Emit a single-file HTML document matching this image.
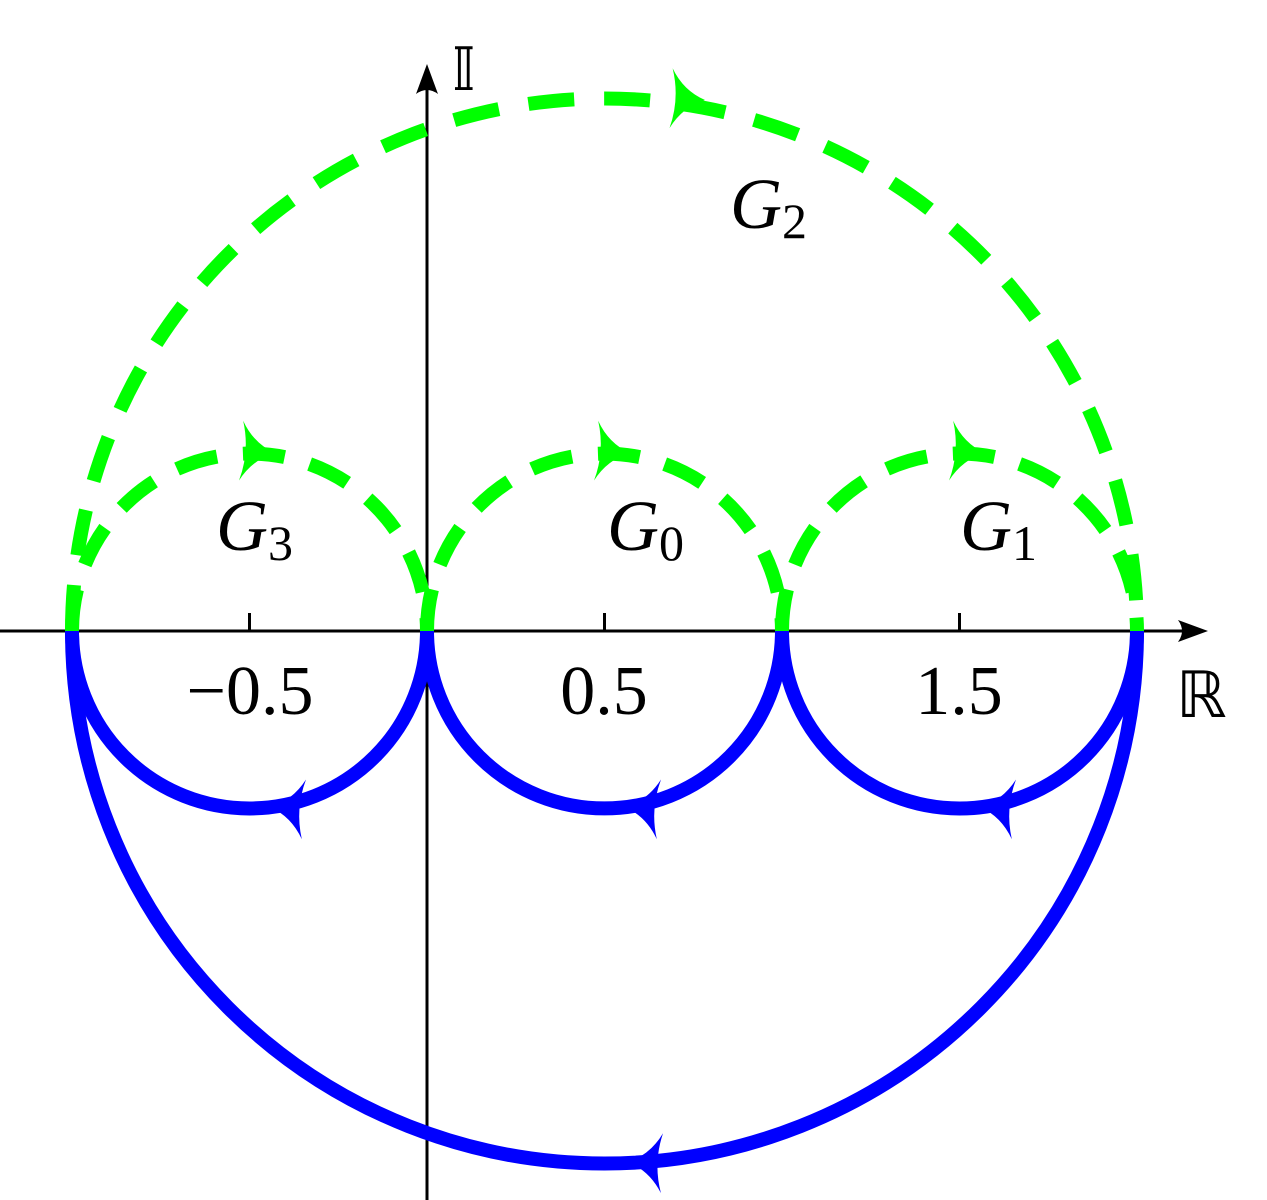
<!DOCTYPE html>
<html><head><meta charset="utf-8"><style>
html,body{margin:0;padding:0;background:#fff;width:1267px;height:1200px;overflow:hidden}
</style></head><body>
<svg width="1267" height="1200" viewBox="0 0 1267 1200" xmlns="http://www.w3.org/2000/svg">
<defs>
<path id="ah" d="M0,0 Q-22,-8 -34,-30 Q-25,0 -34,30 Q-22,8 0,0 Z"/>
</defs>
<line x1="0" y1="631" x2="1195" y2="631" stroke="#000" stroke-width="3"/>
<path d="M1208,631 L1178,620 Q1186,631 1178,642 Z" fill="#000"/>
<line x1="427" y1="1200" x2="427" y2="78" stroke="#000" stroke-width="3"/>
<path d="M427,64 L416,94 Q427,86 438,94 Z" fill="#000"/>
<line x1="249.5" y1="613" x2="249.5" y2="631" stroke="#000" stroke-width="3"/>
<line x1="604.5" y1="613" x2="604.5" y2="631" stroke="#000" stroke-width="3"/>
<line x1="959.5" y1="613" x2="959.5" y2="631" stroke="#000" stroke-width="3"/>
<g fill="none" stroke="#0000ff" stroke-width="14">
<path d="M72,631 A177.5,177.5 0 0 0 427,631"/>
<path d="M427,631 A177.5,177.5 0 0 0 782,631"/>
<path d="M782,631 A177.5,177.5 0 0 0 1137,631"/>
<path d="M72,631 A532.5,532.5 0 0 0 1137,631"/>
</g>
<g fill="none" stroke="#00ff00" stroke-width="14" stroke-dasharray="42 26">
<path d="M72,631 A177.5,177.5 0 0 1 427,631"/>
<path d="M427,631 A177.5,177.5 0 0 1 782,631"/>
<path d="M782,631 A177.5,177.5 0 0 1 1137,631"/>
<path d="M72,631 A532.5,532.5 0 0 1 1137,631" stroke-dasharray="46 30"/>
</g>
<g fill="#00ff00">
<use href="#ah" transform="translate(275,453) rotate(4)"/>
<use href="#ah" transform="translate(630,453) rotate(4)"/>
<use href="#ah" transform="translate(985,453) rotate(4)"/>
<use href="#ah" transform="translate(705,100) rotate(3)"/>
</g>
<g fill="#0000ff">
<use href="#ah" transform="translate(270,807) rotate(184)"/>
<use href="#ah" transform="translate(625,807) rotate(184)"/>
<use href="#ah" transform="translate(980,807) rotate(184)"/>
<use href="#ah" transform="translate(628,1162) rotate(182)"/>
</g>
<g font-family="Liberation Serif, serif" font-size="70" fill="#000">
<text x="250" y="714" text-anchor="middle">−0.5</text>
<text x="604" y="714" text-anchor="middle">0.5</text>
<text x="959" y="714" text-anchor="middle">1.5</text>
<text x="1176" y="717" font-size="64">ℝ</text>
<text x="452" y="90" font-size="60">𝕀</text>
<g font-size="72">
<text x="216" y="550" font-style="italic">G<tspan font-style="normal" font-size="50" dy="10">3</tspan></text>
<text x="607" y="550" font-style="italic">G<tspan font-style="normal" font-size="50" dy="10">0</tspan></text>
<text x="960" y="550" font-style="italic">G<tspan font-style="normal" font-size="50" dy="10">1</tspan></text>
<text x="730" y="228" font-style="italic">G<tspan font-style="normal" font-size="50" dy="10">2</tspan></text>
</g>
</g>
</svg>
</body></html>
